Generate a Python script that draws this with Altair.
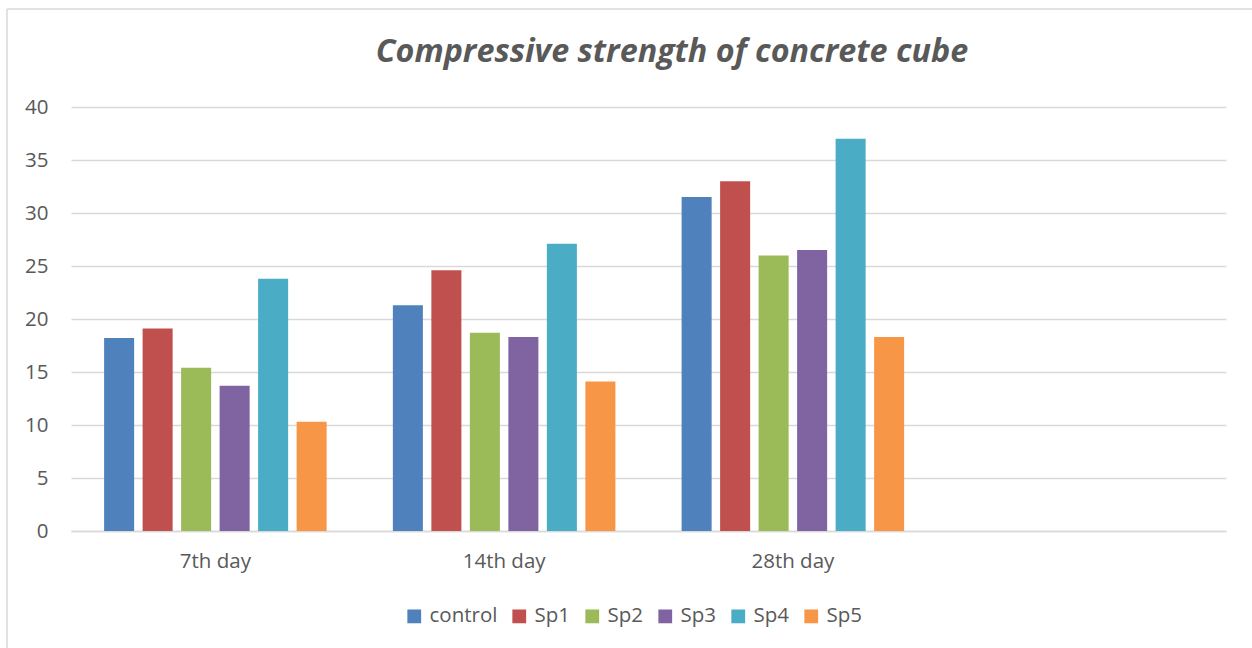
import altair as alt
import pandas as pd

# Curing ages (the fourth slot is left empty on the axis)
days = ["7th day", "14th day", "28th day"]
mixes = ["control", "Sp1", "Sp2", "Sp3", "Sp4", "Sp5"]
colors = ["#4F81BD", "#C0504D", "#9BBB59", "#8064A2", "#4BACC6", "#F79646"]

# Compressive strength per mix, one value per curing age
control = [18.2, 21.3, 31.5]
sp1 = [19.1, 24.6, 33.0]
sp2 = [15.4, 18.7, 26.0]
sp3 = [13.7, 18.3, 26.5]
sp4 = [23.8, 27.1, 37.0]
sp5 = [10.3, 14.1, 18.3]

title_text = "Compressive strength of concrete cube"

series = dict(zip(mixes, [control, sp1, sp2, sp3, sp4, sp5]))
rows = [
    {"day": d, "mix": m, "strength": v}
    for m, vals in series.items()
    for d, v in zip(days, vals)
]
df = pd.DataFrame(rows)

x_domain = days + [""]
text_color = "#595959"
font = "Open Sans"

bars = alt.Chart(df).mark_bar().encode(
    x=alt.X(
        "day:N",
        scale=alt.Scale(domain=x_domain, paddingInner=0.2, paddingOuter=0.1),
        axis=alt.Axis(
            title=None,
            labelAngle=0,
            ticks=False,
            labelPadding=20,
            labelFontSize=20.5,
            labelColor=text_color,
            labelFont=font,
            domainColor="#d9d9d9",
            domainWidth=1.5,
        ),
    ),
    xOffset=alt.XOffset(
        "mix:N",
        scale=alt.Scale(domain=mixes, paddingInner=0.22, paddingOuter=0.11),
    ),
    y=alt.Y(
        "strength:Q",
        scale=alt.Scale(domain=[0, 40], nice=False),
        axis=alt.Axis(
            title=None,
            values=list(range(0, 45, 5)),
            ticks=False,
            domain=False,
            labelPadding=23,
            labelFontSize=20.5,
            labelColor=text_color,
            labelFont=font,
            gridColor="#d9d9d9",
            gridWidth=1.5,
        ),
    ),
    color=alt.Color(
        "mix:N",
        scale=alt.Scale(domain=mixes, range=colors),
        legend=alt.Legend(
            title=None,
            orient="none",
            direction="horizontal",
            legendX=333,
            legendY=499,
            symbolType="square",
            symbolSize=190,
            symbolStrokeWidth=0,
            labelFontSize=20.5,
            labelColor=text_color,
            labelFont=font,
            columnPadding=11,
            labelOffset=5,
        ),
    ),
)

# Light outer frame around the chart
one_row = pd.DataFrame({"k": [0]})
frame_left = alt.Chart(one_row).mark_rule(color="#d9d9d9", strokeWidth=1.5).encode(
    x=alt.value(-64), y=alt.value(-98), y2=alt.value(560)
)
frame_top = alt.Chart(one_row).mark_rule(color="#d9d9d9", strokeWidth=1.5).encode(
    x=alt.value(-64), x2=alt.value(1200), y=alt.value(-98)
)

# Chart heading
heading = alt.Chart(one_row).mark_text(
    text=title_text,
    fontSize=32.3,
    fontStyle="italic",
    fontWeight="bold",
    font=font,
    color=text_color,
    align="center",
    baseline="middle",
).encode(x=alt.value(601), y=alt.value(-55))

chart = alt.layer(frame_left, frame_top, heading, bars).properties(
    width=1155,
    height=424,
    background="white",
    autosize=alt.AutoSizeParams(type="none"),
    padding={"left": 71, "top": 107, "right": 26, "bottom": 117},
).configure_view(strokeWidth=0, stroke="transparent")

chart.save("out.html", embed_options={"renderer": "svg", "actions": False})
